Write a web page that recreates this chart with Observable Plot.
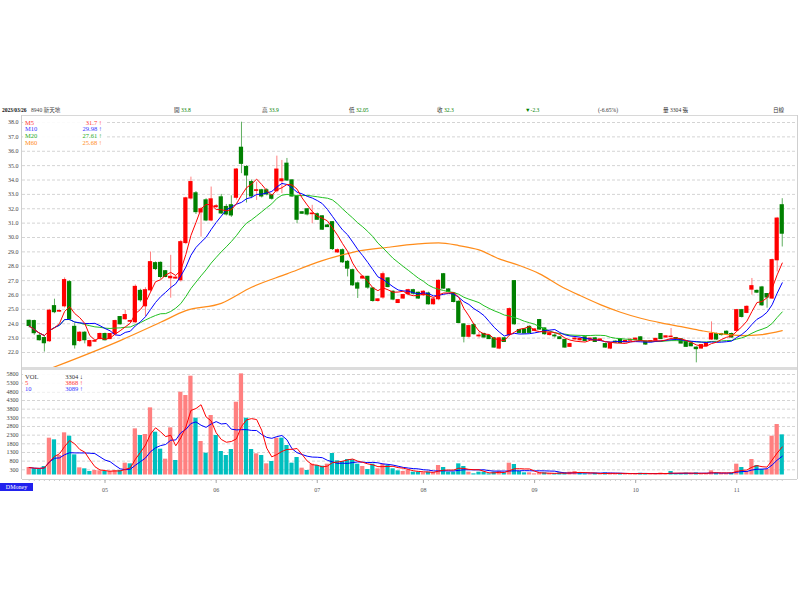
<!DOCTYPE html>
<html><head><meta charset="utf-8">
<script src="https://cdn.jsdelivr.net/npm/d3@7"></script>
<script src="https://cdn.jsdelivr.net/npm/@observablehq/plot@0.6"></script>
<style>
body{margin:0;background:#fff;width:800px;height:600px;position:relative;overflow:hidden;font-family:"Liberation Serif","DejaVu Serif","Noto Sans CJK TC",serif;}
.a{position:absolute;white-space:nowrap;}
.hd{top:107px;font-size:5.6px;line-height:7px;color:#333;}
.g{color:#008000;}
.lg{font-size:6.5px;line-height:6.7px;}
</style></head><body>
<div id="price" class="a" style="left:0;top:115px"></div>
<div id="vol" class="a" style="left:0;top:370px"></div>
<div id="axis" class="a" style="left:0;top:479px"></div>
<script>
const open=[24.20,24.18,23.15,23.00,22.79,25.22,24.85,25.22,26.89,23.78,22.81,23.37,22.44,22.76,22.94,23.28,22.94,23.28,24.46,24.32,24.15,24.11,26.28,25.22,26.33,28.21,28.23,27.65,27.17,27.15,27.03,29.62,32.72,33.07,31.75,32.58,31.19,32.12,32.79,32.12,32.24,32.77,36.24,34.90,33.85,33.25,33.28,33.28,32.93,33.23,33.92,35.13,33.97,32.86,31.75,31.96,31.63,31.61,31.47,30.83,31.06,28.97,29.11,28.30,27.72,26.80,27.15,27.26,26.45,25.59,25.83,27.15,26.22,25.45,25.76,26.06,26.33,26.15,25.99,26.10,25.36,25.71,27.44,26.38,26.10,25.52,23.95,23.10,23.90,23.13,23.28,23.15,22.98,22.28,22.98,23.22,26.96,23.56,23.60,23.78,23.51,24.25,23.67,23.22,23.17,23.05,22.86,22.40,22.92,22.86,23.05,22.90,22.98,22.84,22.58,22.28,22.75,22.91,22.72,22.83,22.88,23.05,22.74,22.75,22.83,23.28,23.05,23.08,23.00,22.91,22.74,22.63,22.33,22.28,22.44,22.91,23.28,23.28,23.44,23.28,23.51,24.94,24.76,26.38,26.28,26.52,26.06,25.76,28.42,32.24];
const high=[24.25,24.25,23.30,23.10,25.00,25.71,24.95,27.19,27.00,24.00,23.45,23.45,22.85,22.85,23.35,23.35,23.33,24.25,24.50,24.94,24.25,26.70,26.40,26.50,28.99,28.30,28.30,27.70,28.76,27.30,29.80,32.80,34.20,33.20,32.10,32.70,33.51,32.30,33.00,32.30,32.90,34.80,38.02,35.00,34.00,33.85,33.35,33.40,33.00,35.66,35.36,35.50,34.00,32.90,31.80,32.00,32.24,31.70,31.50,30.90,31.10,29.20,29.20,28.40,27.80,26.90,27.35,27.30,26.50,25.75,27.60,27.20,26.30,25.70,26.05,26.40,26.40,26.20,26.30,26.20,25.75,27.05,27.50,26.45,26.15,25.60,24.00,23.90,24.00,23.40,23.35,23.20,23.05,23.05,23.05,25.10,27.00,23.60,23.65,23.85,23.65,24.30,23.70,23.40,23.30,23.10,22.90,22.65,23.05,23.00,23.10,23.00,23.05,22.95,22.65,22.70,22.80,22.95,22.85,22.95,23.00,23.10,22.80,22.82,23.00,23.30,23.15,23.67,23.05,22.95,22.80,22.70,22.40,22.55,22.70,24.13,23.35,23.33,23.50,23.35,25.00,25.00,25.25,27.15,26.35,26.60,26.10,28.50,31.40,32.70];
const low=[23.70,23.20,22.80,22.03,22.70,24.70,24.80,25.10,24.20,22.24,22.70,22.60,22.35,22.70,22.90,22.80,22.90,23.20,23.90,24.25,24.10,24.00,25.50,24.50,26.20,27.70,27.10,27.20,25.78,27.10,26.90,29.50,32.60,31.60,30.03,31.10,31.10,32.00,31.60,31.50,31.40,32.60,34.44,32.40,32.70,32.58,32.75,32.90,32.60,33.10,33.05,33.90,32.80,30.96,31.60,31.50,30.96,31.20,30.50,30.70,29.10,28.90,28.20,27.26,26.60,25.76,27.10,26.40,25.50,25.50,25.70,26.50,25.60,25.40,25.70,26.00,26.00,25.70,25.90,25.30,25.30,25.60,26.40,26.15,25.45,24.00,22.67,23.00,23.20,23.00,23.00,22.90,22.30,22.20,22.70,23.15,23.90,23.30,23.30,23.30,23.45,23.55,23.20,23.15,23.00,22.90,22.30,22.35,22.85,22.80,22.75,22.85,22.70,22.80,22.30,22.20,22.65,22.60,22.68,22.80,22.85,22.75,22.50,22.70,22.80,22.90,23.00,23.00,22.90,22.60,22.35,22.40,21.28,22.25,22.40,22.85,22.85,23.15,23.20,23.00,23.45,24.40,24.70,25.99,26.10,25.20,25.08,25.70,27.60,29.34];
const close=[23.85,23.35,22.86,22.65,24.90,24.81,24.88,27.03,24.34,22.51,23.37,22.86,22.79,22.79,23.28,22.86,23.28,24.18,23.97,24.60,24.18,26.56,25.64,26.33,28.28,27.81,27.26,27.26,27.26,27.20,29.67,32.72,33.85,31.77,31.96,31.19,32.65,32.17,31.68,31.61,31.54,34.72,35.13,34.32,32.86,33.28,32.86,33.00,32.70,34.72,34.04,33.97,32.86,31.24,31.66,31.61,31.66,31.24,30.55,30.73,29.20,29.11,28.28,27.84,26.68,26.45,27.26,26.52,25.59,25.69,27.44,26.56,25.69,25.64,25.99,26.33,26.10,25.76,26.22,25.36,25.69,26.98,26.45,26.22,25.52,24.06,23.10,23.83,23.28,23.17,23.05,22.94,22.35,22.98,22.74,25.01,23.97,23.37,23.33,23.37,23.60,23.60,23.28,23.33,23.13,22.94,22.35,22.58,22.96,22.94,22.81,22.96,22.74,22.90,22.35,22.63,22.70,22.67,22.80,22.88,22.96,22.81,22.56,22.78,22.94,22.94,23.12,23.10,22.95,22.63,22.40,22.44,22.24,22.51,22.63,23.28,22.91,23.22,23.26,23.05,24.94,24.48,25.17,26.61,26.17,25.29,25.83,28.42,31.31,30.27];
const volume=[433,356,356,490,2125,2029,1125,2433,2240,1163,413,356,202,260,240,202,202,260,260,683,644,2663,2279,2337,3875,2471,1490,913,2721,837,4779,4587,5702,3279,1933,1260,3433,2279,1356,1125,1471,4202,5837,3279,1471,1221,1125,644,779,2125,2125,1702,683,1010,394,260,625,548,510,625,1240,817,779,894,875,625,490,317,625,356,625,548,356,240,202,260,163,163,125,163,125,548,433,163,163,644,490,163,67,163,163,67,163,202,125,683,606,202,125,125,67,125,125,87,67,125,125,163,202,125,67,67,100,80,120,100,80,90,70,80,70,100,90,60,70,110,80,202,70,90,110,90,120,80,90,240,110,90,80,100,625,433,202,894,548,317,317,2240,2913,2317];
const m60Day=[4,18,26,31,38,44,51,58,64,71,77,81,85,89,93,97,101,105,109,113,117,121,125,129,133,137,141,145,149];
const m60Val=[20.86,22.83,24.10,24.91,25.42,26.54,27.47,28.39,28.97,29.32,29.55,29.62,29.44,29.14,28.51,28.05,27.47,26.65,25.96,25.33,24.80,24.38,24.06,23.80,23.52,23.29,23.18,23.25,23.52];
const priceTicks=[22,23,24,25,26,27,28,29,30,31,32,33,34,35,36,37,38];
const volTicks=[300,800,1300,1800,2300,2800,3300,3800,4300,4800,5300,5800];
const monthIdx=[15,37,57,78,100,120,140];
const monthLabels=["05","06","07","08","09","10","11"];

const candles=close.map((c,i)=>({i,open:open[i],high:high[i],low:low[i],close:c,vol:volume[i],up:c>=open[i],volUp:i===0?true:c>=close[i-1]}));
function ma(arr,k){return arr.map((_,i)=>{const s=Math.max(0,i-k+1);let t=0;for(let j=s;j<=i;j++)t+=arr[j];return {i,v:t/(i-s+1)};});}
const m60=m60Day.map((d,k)=>({i:d,v:m60Val[k]}));
const X={domain:[-1.326,152.02],axis:null};
const font="Liberation Serif, DejaVu Serif, serif";
const grid={stroke:"#d4d4d4",strokeDasharray:"3,2"};

const price=Plot.plot({
  width:800,height:252,marginLeft:22,marginRight:3,marginTop:0,marginBottom:0,
  style:{background:"transparent",fontFamily:font,fontSize:"6px",color:"#444",overflow:"visible"},
  x:X,
  y:{domain:[20.957,38.487],ticks:priceTicks,tickFormat:d=>d.toFixed(1),tickSize:0,tickPadding:4,label:null},
  marks:[
    Plot.ruleY(priceTicks,grid),
    Plot.ruleX(candles,{x:"i",y1:"low",y2:"high",stroke:d=>d.up?"#ff8080":"#5fae5f",strokeWidth:1}),
    Plot.rect(candles,{x1:d=>d.i-0.42,x2:d=>d.i+0.42,y1:"open",y2:"close",fill:d=>d.up?"#ff0000":"#008000",insetTop:-0.6,insetBottom:-0.6}),
    Plot.line(m60,{x:"i",y:"v",stroke:"#ff8c1a",strokeWidth:1.2,curve:"monotone-x",clip:true}),
    Plot.line(ma(close,20),{x:"i",y:"v",stroke:"#22c022",strokeWidth:1}),
    Plot.line(ma(close,10),{x:"i",y:"v",stroke:"#0000ff",strokeWidth:1}),
    Plot.line(ma(close,5),{x:"i",y:"v",stroke:"#ff0000",strokeWidth:1})
  ]
});
document.getElementById("price").appendChild(price);

const vol=Plot.plot({
  width:800,height:109,marginLeft:22,marginRight:3,marginTop:0,marginBottom:0,
  style:{background:"transparent",fontFamily:font,fontSize:"6px",color:"#444",overflow:"visible"},
  x:X,
  y:{domain:[-260,6031],ticks:volTicks,tickFormat:d=>String(d),tickSize:0,tickPadding:4,label:null},
  marks:[
    Plot.ruleY(volTicks,grid),
    Plot.rect(candles,{x1:d=>d.i-0.42,x2:d=>d.i+0.42,y1:0,y2:"vol",fill:d=>d.volUp?"#ff8080":"#00bfbf"}),
    Plot.line(ma(volume,10),{x:"i",y:"v",stroke:"#0000ff",strokeWidth:1}),
    Plot.line(ma(volume,5),{x:"i",y:"v",stroke:"#ff0000",strokeWidth:1})
  ]
});
document.getElementById("vol").appendChild(vol);

const axis=Plot.plot({
  width:800,height:20,marginLeft:22,marginRight:3,marginTop:0,marginBottom:0,
  style:{background:"transparent",fontFamily:font,fontSize:"6px",color:"#444"},
  x:X,
  y:{domain:[0,20],range:[0,20],axis:null},
  marks:[
    Plot.ruleX(candles,{x:"i",y1:0,y2:2,stroke:"#cccccc"}),
    Plot.ruleX(monthIdx,{x:d=>d,y1:0,y2:4,stroke:"#aaaaaa"}),
    Plot.text(monthIdx,{x:d=>d,y:11,text:(d,k)=>monthLabels[k],fill:"#555",fontSize:6})
  ]
});
document.getElementById("axis").appendChild(axis);
</script>
<!-- frame -->
<div class="a" style="left:22px;top:115px;width:775px;height:1px;background:#d8d8d8"></div>
<div class="a" style="left:21px;top:115px;width:1px;height:364px;background:#cfcfcf"></div>
<div class="a" style="left:797px;top:115px;width:1px;height:364px;background:#cfcfcf"></div>
<div class="a" style="left:22px;top:366.5px;width:775px;height:3.5px;background:#dcdcdc"></div>
<div class="a" style="left:22px;top:479px;width:775px;height:1px;background:#d0d0d0"></div>
<!-- header -->
<div class="a hd" style="left:2px;font-weight:bold;color:#111;letter-spacing:-0.1px">2023/03/26</div>
<div class="a hd" style="left:31px;color:#444">8940 新天地</div>
<div class="a hd" style="left:174px">開 <span class="g">33.8</span></div>
<div class="a hd" style="left:262px">高 <span class="g">33.9</span></div>
<div class="a hd" style="left:349px">低 <span class="g">32.05</span></div>
<div class="a hd" style="left:437px">收 <span class="g">32.3</span></div>
<div class="a hd g" style="left:525px">▼-2.3</div>
<div class="a hd" style="left:598px">(-6.65%)</div>
<div class="a hd" style="left:663px">量 3304 張</div>
<div class="a hd" style="left:773px">日線</div>
<!-- price legend -->
<div class="a" style="left:23px;top:117px;width:82px;height:30px;background:rgba(255,255,255,0.9)"></div>
<div class="a lg" style="left:25px;top:119.5px;color:#ff3333">M5</div>
<div class="a lg" style="left:25px;top:126.2px;color:#3333ff">M10</div>
<div class="a lg" style="left:25px;top:132.9px;color:#22aa22">M20</div>
<div class="a lg" style="left:25px;top:139.6px;color:#ff8c1a">M60</div>
<div class="a lg" style="left:60px;width:42px;text-align:right;top:119.5px;color:#ff3333">31.7 ↑</div>
<div class="a lg" style="left:60px;width:42px;text-align:right;top:126.2px;color:#3333ff">29.98 ↑</div>
<div class="a lg" style="left:60px;width:42px;text-align:right;top:132.9px;color:#22aa22">27.61 ↑</div>
<div class="a lg" style="left:60px;width:42px;text-align:right;top:139.6px;color:#ff8c1a">25.68 ↑</div>
<!-- volume legend -->
<div class="a" style="left:23px;top:371px;width:80px;height:21px;background:rgba(255,255,255,0.9)"></div>
<div class="a lg" style="left:25px;top:373.5px;color:#333">VOL</div>
<div class="a lg" style="left:25px;top:379.5px;color:#ff3333">5</div>
<div class="a lg" style="left:25px;top:385.5px;color:#3333ff">10</div>
<div class="a lg" style="left:50px;width:33px;text-align:right;top:373.5px;color:#333">3304 ↓</div>
<div class="a lg" style="left:50px;width:33px;text-align:right;top:379.5px;color:#ff3333">3868 ↑</div>
<div class="a lg" style="left:50px;width:33px;text-align:right;top:385.5px;color:#3333ff">3089 ↑</div>
<!-- badge -->
<div class="a" style="left:0;top:483px;width:33px;height:8px;background:#2222ee;color:#fff;font-size:6px;line-height:8px;text-align:center">DMoney</div>
</body></html>
